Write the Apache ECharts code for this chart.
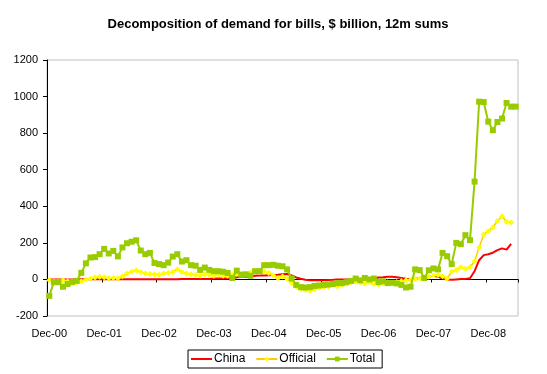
<!DOCTYPE html>
<html>
<head>
<meta charset="utf-8">
<script src="https://cdn.jsdelivr.net/npm/echarts@6/dist/echarts.min.js"></script>
<style>
html,body{margin:0;padding:0;background:#fff;}
#chart{width:547px;height:374px;}
</style>
</head>
<body>
<div id="chart"></div>
<script>
var categories = [
"Dec-00",
"Jan-01","Feb-01","Mar-01","Apr-01","May-01","Jun-01","Jul-01","Aug-01","Sep-01","Oct-01","Nov-01","Dec-01",
"Jan-02","Feb-02","Mar-02","Apr-02","May-02","Jun-02","Jul-02","Aug-02","Sep-02","Oct-02","Nov-02","Dec-02",
"Jan-03","Feb-03","Mar-03","Apr-03","May-03","Jun-03","Jul-03","Aug-03","Sep-03","Oct-03","Nov-03","Dec-03",
"Jan-04","Feb-04","Mar-04","Apr-04","May-04","Jun-04","Jul-04","Aug-04","Sep-04","Oct-04","Nov-04","Dec-04",
"Jan-05","Feb-05","Mar-05","Apr-05","May-05","Jun-05","Jul-05","Aug-05","Sep-05","Oct-05","Nov-05","Dec-05",
"Jan-06","Feb-06","Mar-06","Apr-06","May-06","Jun-06","Jul-06","Aug-06","Sep-06","Oct-06","Nov-06","Dec-06",
"Jan-07","Feb-07","Mar-07","Apr-07","May-07","Jun-07","Jul-07","Aug-07","Sep-07","Oct-07","Nov-07","Dec-07",
"Jan-08","Feb-08","Mar-08","Apr-08","May-08","Jun-08","Jul-08","Aug-08","Sep-08","Oct-08","Nov-08","Dec-08",
"Jan-09","Feb-09","Mar-09","Apr-09","May-09","Jun-09"
];

var china = [
0,0,0,0,0,0,1,1,1,1,1,1,1,
1,1,1,1,1,1,1,1,1,1,1,1,
1,1,1,1,2,2,2,2,3,3,3,5,
5,5,6,8,12,13,14,15,20,22,22,23,
24,25,28,30,22,11,4,-2,-5,-5,-5,-4,
-3,-2,0,0,0,0,0,0,2,3,5,10,
12,15,15,12,8,4,2,2,8,12,15,20,
15,5,0,-2,0,2,3,6,45,105,133,138,
146,160,170,163,195
];

var official = [
-5,-10,-12,-5,-10,-12,-15,-10,-2,5,11,15,12,
6,8,6,18,32,42,50,40,33,30,28,25,
32,35,40,55,40,32,28,25,22,28,25,20,
25,20,20,25,30,35,30,38,45,40,44,35,
22,7,16,4,-20,-38,-52,-58,-62,-52,-45,-42,
-40,-31,-38,-31,-22,-16,-13,-16,-22,-16,-25,-28,
-22,-15,-20,-14,-8,-4,-2,3,5,10,15,22,
24,18,5,42,52,66,58,68,100,175,246,264,
284,320,346,315,311
];

var total = [
-90,-15,-15,-40,-25,-15,-8,36,88,120,122,138,167,
142,156,126,175,198,206,214,158,138,145,90,84,
78,92,125,138,98,105,78,75,52,65,52,45,
45,42,35,8,48,25,28,20,45,45,78,78,
80,75,72,55,5,-30,-42,-44,-42,-36,-33,-30,
-28,-25,-20,-20,-15,-8,5,-5,8,0,5,-14,
-10,-20,-18,-22,-30,-44,-40,55,51,8,50,60,
55,145,127,84,200,193,242,215,535,972,970,863,
816,861,880,965,945,945
];

var yTicks = { min: -200, max: 1200, interval: 200 };

var chart = echarts.init(document.getElementById('chart'), null, { renderer: 'canvas' });
var font = 'Liberation Sans, Arial, sans-serif';

chart.setOption({
  animation: false,
  backgroundColor: '#ffffff',
  title: {
    text: 'Decomposition of demand for bills, $ billion, 12m sums',
    left: 273,
    textAlign: 'center',
    top: 13,
    textStyle: { fontFamily: font, fontSize: 13, fontWeight: 'bold', color: '#000' }
  },
  legend: {
    left: 188,
    top: 350,
    orient: 'horizontal',
    padding: [3, 7, 3, 3],
    itemGap: 10,
    itemWidth: 21,
    itemHeight: 6,
    symbolKeepAspect: true,
    borderColor: '#000',
    borderWidth: 1,
    backgroundColor: '#fff',
    textStyle: { fontFamily: font, fontSize: 12, color: '#000', padding: [0, 0, 0, -3] },
    data: [
      { name: 'China', icon: 'path://M0,0L21,0L21,2L0,2Z' },
      { name: 'Official' },
      { name: 'Total' }
    ]
  },
  grid: {
    left: 47,
    right: 29,
    top: 60,
    bottom: 58,
    containLabel: false,
    outerBoundsMode: 'none',
    show: true,
    borderColor: '#c0c0c0',
    borderWidth: 1,
    backgroundColor: 'transparent'
  },
  xAxis: [
    {
      type: 'category',
      data: categories,
      boundaryGap: true,
      position: 'bottom',
      axisLine: { show: false, onZero: false },
      axisTick: { show: false },
      splitLine: { show: false },
      axisLabel: {
        interval: 11,
        margin: 12,
        fontFamily: font,
        fontSize: 11,
        color: '#000'
      }
    },
    {
      type: 'category',
      data: categories,
      boundaryGap: true,
      position: 'bottom',
      axisLine: { show: true, onZero: true, lineStyle: { color: '#000', width: 1 } },
      axisTick: { show: true, interval: 11, length: 3, lineStyle: { color: '#000' } },
      axisLabel: { show: false },
      splitLine: { show: false }
    }
  ],
  yAxis: {
    type: 'value',
    min: yTicks.min,
    max: yTicks.max,
    interval: yTicks.interval,
    axisLine: { show: true, onZero: false, lineStyle: { color: '#000', width: 1 } },
    axisTick: { show: true, length: 4, lineStyle: { color: '#000' } },
    splitLine: { show: false },
    axisLabel: {
      margin: 9, fontFamily: font, fontSize: 11, color: '#000',
      formatter: function (v) { return String(v); }
    }
  },
  series: [
    {
      name: 'China',
      type: 'line',
      xAxisIndex: 0,
      data: china,
      symbol: 'none',
      showSymbol: false,
      lineStyle: { color: '#ff0000', width: 2 },
      itemStyle: { color: '#ff0000' },
      z: 2
    },
    {
      name: 'Official',
      type: 'line',
      xAxisIndex: 0,
      data: official,
      symbol: 'diamond',
      symbolSize: 6,
      showSymbol: true,
      showAllSymbol: true,
      lineStyle: { color: '#ffcc00', width: 1.5 },
      itemStyle: { color: '#ffff00', borderWidth: 0 },
      z: 3
    },
    {
      name: 'Total',
      type: 'line',
      xAxisIndex: 0,
      data: total,
      symbol: 'rect',
      symbolSize: 6,
      showSymbol: true,
      showAllSymbol: true,
      lineStyle: { color: '#99cc00', width: 2 },
      itemStyle: { color: '#99cc00', borderWidth: 0 },
      z: 4
    }
  ]
});
</script>
</body>
</html>
